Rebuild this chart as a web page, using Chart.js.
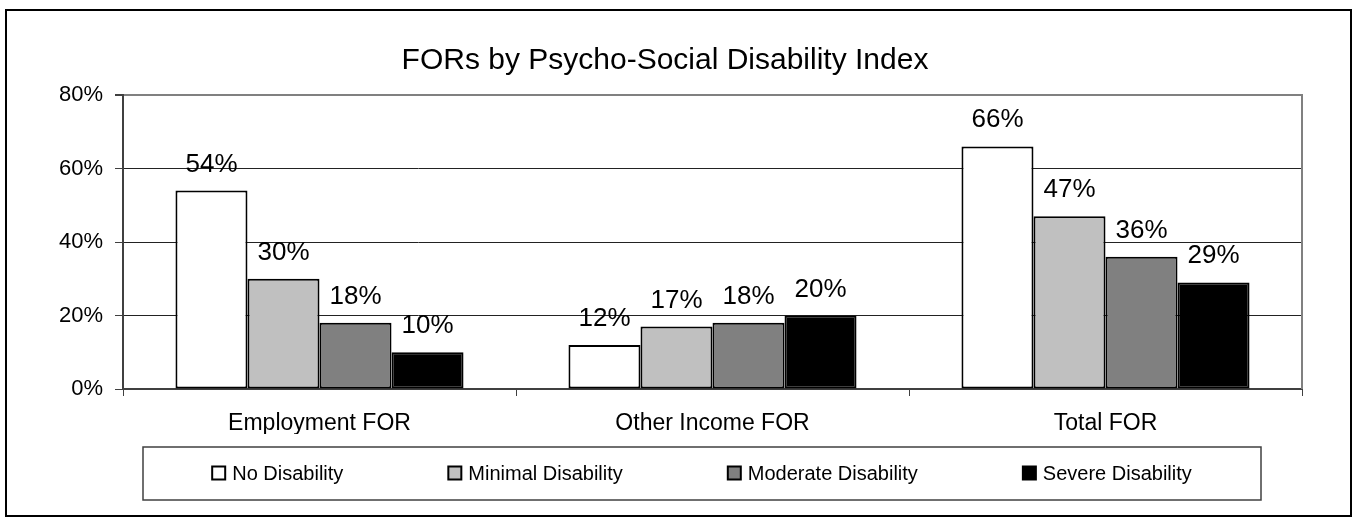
<!DOCTYPE html>
<html>
<head>
<meta charset="utf-8">
<script src="https://cdn.jsdelivr.net/npm/chart.js@4"></script>
<style>
  html, body { margin: 0; padding: 0; background: #fff; }
  #wrap { width: 1356px; height: 517px; }
</style>
</head>
<body>
<div id="wrap"><canvas id="forChart" width="1356" height="517"></canvas></div>
<script>
// chart values
var titleText = 'FORs by Psycho-Social Disability Index';
var categories = ['Employment FOR', 'Other Income FOR', 'Total FOR'];
var seriesNames = ['No Disability', 'Minimal Disability', 'Moderate Disability', 'Severe Disability'];
var noDisability = [54, 12, 66];
var minimalDisability = [30, 17, 47];
var moderateDisability = [18, 18, 36];
var severeDisability = [10, 20, 29];
var yTicks = [0, 20, 40, 60, 80];

var seriesValues = [noDisability, minimalDisability, moderateDisability, severeDisability];
var fills = ['#FFFFFF', '#C0C0C0', '#808080', '#000000'];
var fontFamily = '"Liberation Sans", Arial, sans-serif';

var datasets = [];
for (var i = 0; i < seriesNames.length; i++) {
    datasets.push({
        label: seriesNames[i],
        data: seriesValues[i],
        backgroundColor: fills[i],
        borderColor: '#000000',
        borderWidth: 2,
        borderSkipped: false
    });
}

// frame, title, value labels and boxed legend
var decorations = {
    id: 'decorations',
    afterDraw: function(chart) {
        var ctx = chart.ctx;
        var area = chart.chartArea;
        ctx.save();

        // gray right edge of the plot area
        ctx.strokeStyle = '#808080';
        ctx.lineWidth = 2;
        ctx.beginPath();
        ctx.moveTo(area.right, area.top - 1);
        ctx.lineTo(area.right, area.bottom);
        ctx.stroke();

        // outer border
        ctx.strokeStyle = '#000000';
        ctx.lineWidth = 2;
        ctx.strokeRect(6, 10, 1345, 506);

        // title
        ctx.fillStyle = '#000000';
        ctx.font = '30px ' + fontFamily;
        ctx.textAlign = 'center';
        ctx.textBaseline = 'middle';
        ctx.fillText(titleText, 665, 61);

        // value labels above bars
        ctx.font = '26px ' + fontFamily;
        ctx.textBaseline = 'alphabetic';
        chart.data.datasets.forEach(function(ds, di) {
            chart.getDatasetMeta(di).data.forEach(function(bar, j) {
                ctx.fillText(ds.data[j] + '%', bar.x, bar.y - 19);
            });
        });

        // legend box
        var boxL = 143, boxT = 447, boxR = 1261, boxB = 500;
        ctx.strokeStyle = '#404040';
        ctx.lineWidth = 1.5;
        ctx.strokeRect(boxL, boxT, boxR - boxL, boxB - boxT);

        ctx.font = '20px ' + fontFamily;
        var sq = 13, gapText = 7, gapItem = 105;
        var widths = chart.data.datasets.map(function(ds) {
            return sq + gapText + ctx.measureText(ds.label).width;
        });
        var total = widths.reduce(function(a, b) { return a + b; }, 0) + gapItem * (widths.length - 1);
        var x = (boxL + boxR) / 2 - total / 2;
        var cy = 473;
        ctx.textAlign = 'left';
        ctx.textBaseline = 'middle';
        chart.data.datasets.forEach(function(ds, di) {
            ctx.fillStyle = ds.backgroundColor;
            ctx.fillRect(x, cy - sq / 2, sq, sq);
            ctx.strokeStyle = '#000000';
            ctx.lineWidth = 2;
            ctx.strokeRect(x, cy - sq / 2, sq, sq);
            ctx.fillStyle = '#000000';
            ctx.fillText(ds.label, x + sq + gapText, cy + 1);
            x += widths[di] + gapItem;
        });
        ctx.restore();
    }
};

var ctx = document.getElementById('forChart');
var forChart = new Chart(ctx, {
    type: 'bar',
    data: {
        labels: categories,
        datasets: datasets
    },
    options: {
        responsive: false,
        animation: false,
        layout: {
            padding: { top: 95, right: 54, bottom: 83, left: 0 }
        },
        datasets: {
            bar: { categoryPercentage: 0.733, barPercentage: 1.0 }
        },
        plugins: {
            legend: { display: false },
            title: { display: false },
            tooltip: { enabled: false }
        },
        scales: {
            x: {
                afterFit: function(scale) { scale.height = 45; },
                grid: {
                    offset: true,
                    drawOnChartArea: false,
                    drawTicks: true,
                    tickLength: 7,
                    tickColor: '#404040'
                },
                border: { color: '#404040', width: 2 },
                ticks: {
                    color: '#000000',
                    padding: 14,
                    font: { family: fontFamily, size: 23 }
                }
            },
            y: {
                min: yTicks[0],
                max: yTicks[yTicks.length - 1],
                afterFit: function(scale) { scale.width = 123; },
                afterBuildTicks: function(scale) {
                    scale.ticks = yTicks.map(function(v) { return { value: v }; });
                },
                grid: {
                    color: function(c) { return c.tick && c.tick.value === 80 ? '#808080' : '#222222'; },
                    lineWidth: function(c) { return c.tick && c.tick.value === 80 ? 2 : 1; },
                    tickLength: 8,
                    tickColor: '#404040'
                },
                border: { color: '#404040', width: 2 },
                ticks: {
                    color: '#000000',
                    padding: 12,
                    font: { family: fontFamily, size: 22 },
                    callback: function(v) { return v + '%'; }
                }
            }
        }
    },
    plugins: [decorations]
});
</script>
</body>
</html>
